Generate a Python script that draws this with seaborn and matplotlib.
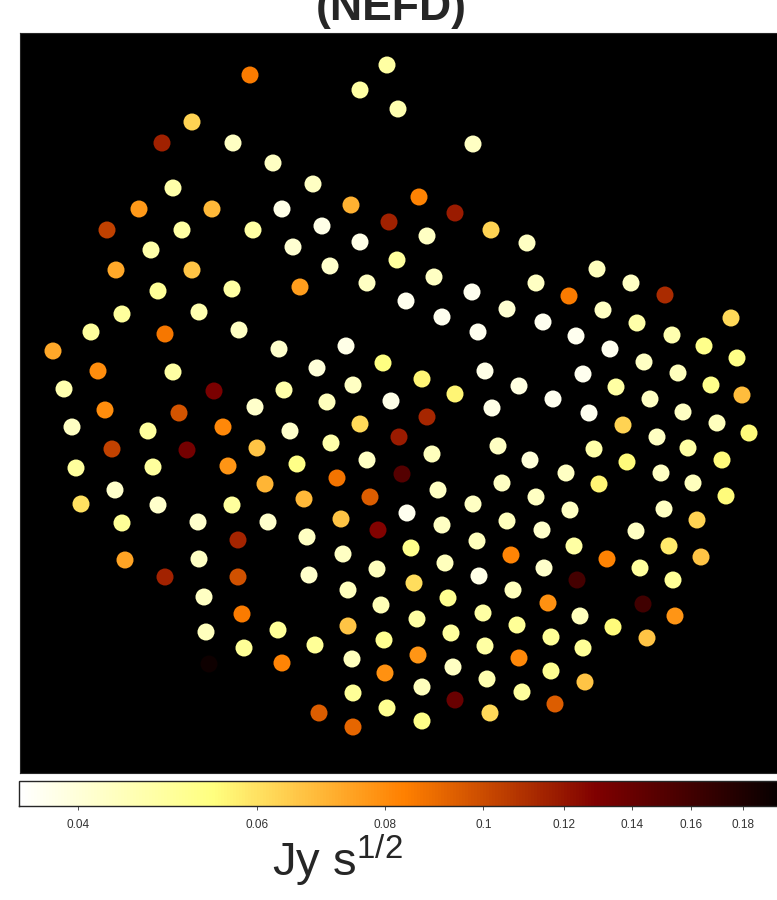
import matplotlib
matplotlib.use('Agg')
import matplotlib.pyplot as plt
import matplotlib.colors as mcolors
import matplotlib.cm as cm
from matplotlib.ticker import NullLocator
import pandas as pd
import seaborn as sns

# detector positions on the map (image pixels) and their NEFD values (Jy s^1/2)
det_x = [250, 387, 360, 398, 192, 162, 233, 473, 273, 173,
         313, 139, 212, 282, 351, 419, 455, 389, 107, 182,
         253, 322, 293, 360, 427, 491, 527, 151, 116, 192,
         330, 397, 232, 158, 300, 434, 367, 472, 597, 536,
         631, 569, 665, 122, 199, 91, 165, 239, 279, 53,
         98, 173, 64, 214, 255, 105, 179, 72, 148, 223,
         257, 112, 187, 76, 153, 228, 265, 115, 81, 158,
         232, 122, 198, 268, 406, 507, 442, 478, 346, 317,
         383, 422, 485, 519, 284, 353, 455, 327, 391, 492,
         427, 290, 360, 399, 331, 432, 498, 530, 297, 367,
         337, 402, 438, 502, 304, 370, 407, 473, 341, 442,
         507, 378, 603, 731, 543, 637, 576, 672, 704, 610,
         737, 644, 583, 678, 616, 711, 553, 650, 742, 589,
         683, 623, 717, 749, 657, 594, 688, 627, 722, 566,
         661, 599, 693, 536, 726, 570, 664, 697, 542, 636,
         238, 125, 199, 165, 238, 204, 242, 206, 244, 209,
         307, 411, 477, 343, 445, 511, 309, 377, 414, 479,
         348, 448, 513, 381, 483, 278, 348, 417, 451, 517,
         315, 384, 485, 282, 418, 519, 352, 453, 385, 487,
         422, 353, 522, 455, 319, 387, 490, 422, 353, 574,
         669, 607, 701, 544, 640, 577, 673, 548, 643, 580,
         675, 551, 613, 647, 583, 551, 585, 555]
det_y = [75, 65, 90, 109, 122, 143, 143, 144, 163, 188,
         184, 209, 209, 209, 205, 197, 213, 222, 230, 230,
         230, 226, 247, 242, 236, 230, 243, 250, 270, 270,
         266, 260, 289, 291, 287, 277, 283, 292, 269, 283,
         283, 296, 295, 314, 312, 332, 334, 330, 349, 351,
         371, 372, 389, 391, 407, 410, 413, 427, 431, 427,
         448, 449, 450, 468, 467, 466, 484, 490, 504, 505,
         505, 523, 522, 522, 301, 309, 317, 332, 346, 368,
         363, 379, 371, 386, 390, 385, 394, 402, 401, 408,
         417, 431, 424, 437, 443, 454, 446, 460, 464, 460,
         478, 474, 490, 483, 499, 497, 513, 504, 519, 525,
         521, 530, 310, 318, 322, 323, 336, 335, 346, 349,
         358, 362, 374, 373, 387, 385, 399, 399, 395, 413,
         412, 425, 423, 433, 437, 449, 448, 462, 460, 473,
         473, 484, 483, 497, 496, 510, 509, 520, 530, 531,
         540, 560, 559, 577, 577, 597, 614, 632, 648, 664,
         537, 548, 541, 554, 563, 555, 575, 569, 583, 576,
         590, 598, 590, 605, 613, 630, 626, 619, 633, 625,
         645, 640, 646, 663, 655, 658, 659, 667, 673, 679,
         687, 693, 692, 700, 713, 708, 713, 721, 727, 546,
         546, 559, 557, 568, 568, 580, 580, 603, 604, 616,
         616, 637, 627, 638, 648, 671, 682, 704]
nefd = [0.085, 0.048, 0.048, 0.046, 0.063, 0.116, 0.043, 0.043, 0.043, 0.047,
        0.043, 0.077, 0.069, 0.038, 0.071, 0.083, 0.118, 0.116, 0.104, 0.048,
        0.048, 0.038, 0.041, 0.038, 0.043, 0.063, 0.043, 0.047, 0.073, 0.066,
        0.042, 0.049, 0.048, 0.050, 0.076, 0.043, 0.043, 0.037, 0.044, 0.043,
        0.043, 0.085, 0.112, 0.049, 0.046, 0.049, 0.086, 0.043, 0.042, 0.073,
        0.080, 0.048, 0.046, 0.132, 0.042, 0.080, 0.097, 0.043, 0.049, 0.081,
        0.066, 0.103, 0.134, 0.049, 0.049, 0.078, 0.070, 0.042, 0.060, 0.042,
        0.049, 0.050, 0.042, 0.042, 0.037, 0.041, 0.037, 0.037, 0.038, 0.040,
        0.054, 0.056, 0.038, 0.039, 0.047, 0.043, 0.056, 0.044, 0.038, 0.038,
        0.113, 0.042, 0.062, 0.118, 0.047, 0.044, 0.043, 0.040, 0.053, 0.043,
        0.087, 0.150, 0.043, 0.043, 0.069, 0.094, 0.037, 0.043, 0.066, 0.043,
        0.044, 0.128, 0.043, 0.062, 0.037, 0.047, 0.037, 0.046, 0.052, 0.037,
        0.053, 0.043, 0.037, 0.044, 0.048, 0.052, 0.037, 0.043, 0.068, 0.037,
        0.043, 0.063, 0.044, 0.055, 0.043, 0.047, 0.048, 0.055, 0.055, 0.043,
        0.043, 0.056, 0.044, 0.043, 0.055, 0.043, 0.043, 0.063, 0.042, 0.043,
        0.114, 0.074, 0.043, 0.115, 0.098, 0.043, 0.085, 0.044, 0.050, 0.190,
        0.043, 0.052, 0.044, 0.043, 0.044, 0.082, 0.042, 0.044, 0.061, 0.038,
        0.044, 0.051, 0.044, 0.045, 0.048, 0.050, 0.066, 0.048, 0.049, 0.050,
        0.050, 0.051, 0.048, 0.082, 0.078, 0.081, 0.044, 0.043, 0.079, 0.046,
        0.044, 0.050, 0.049, 0.140, 0.094, 0.051, 0.062, 0.053, 0.091, 0.048,
        0.058, 0.083, 0.066, 0.042, 0.049, 0.158, 0.050, 0.079, 0.160, 0.044,
        0.078, 0.050, 0.055, 0.066, 0.050, 0.051, 0.066, 0.094]

cbar_ticks = [0.04, 0.06, 0.08, 0.1, 0.12, 0.14, 0.16, 0.18]
cbar_labels = ['0.04', '0.06', '0.08', '0.1', '0.12', '0.14', '0.16', '0.18']

sns.set_style('white')
plt.rcParams['font.family'] = ['Liberation Sans', 'DejaVu Sans']
plt.rcParams['mathtext.default'] = 'regular'

df = pd.DataFrame({'x': det_x, 'y': det_y, 'nefd': nefd})
norm = mcolors.LogNorm(vmin=0.035, vmax=0.2)

W, H = 777, 900
fig = plt.figure(figsize=(W / 100, H / 100), dpi=100)

# map panel (runs off the right edge like the original crop)
ax = fig.add_axes([20 / W, (H - 773) / H, (790 - 20) / W, (773 - 33) / H])
ax.set_facecolor('black')
sns.scatterplot(data=df, x='x', y='y', hue='nefd', palette='afmhot_r',
                hue_norm=norm, s=150, linewidth=0, marker='o',
                legend=False, ax=ax)
ax.set_xlim(20, 790)
ax.set_ylim(773, 33)
ax.set_xticks([])
ax.set_yticks([])
ax.set_xlabel('')
ax.set_ylabel('')

# colorbar
cax = fig.add_axes([19 / W, (H - 806) / H, (790 - 19) / W, 25 / H])
sm = cm.ScalarMappable(norm=norm, cmap='afmhot_r')
cb = fig.colorbar(sm, cax=cax, orientation='horizontal')
cb.set_ticks(cbar_ticks)
cb.set_ticklabels(cbar_labels)
cax.xaxis.set_minor_locator(NullLocator())
cax.tick_params(axis='x', length=3, width=0.6, pad=6, labelsize=8.5,
                colors='#333333')
for lab in cax.get_xticklabels():
    lab.set_family(['Liberation Sans Narrow', 'Liberation Sans'])
cb.outline.set_linewidth(1)

fig.text(337 / W, 1 - 860 / H, r'Jy s$^{1/2}$', fontsize=34,
         family=['Liberation Sans Narrow', 'Liberation Sans'],
         ha='center', va='center')
fig.text(391 / W, 1 - 20 / H, '(NEFD)', fontsize=32, fontweight='bold',
         ha='center', va='baseline')

fig.savefig('out.png', dpi=100)
